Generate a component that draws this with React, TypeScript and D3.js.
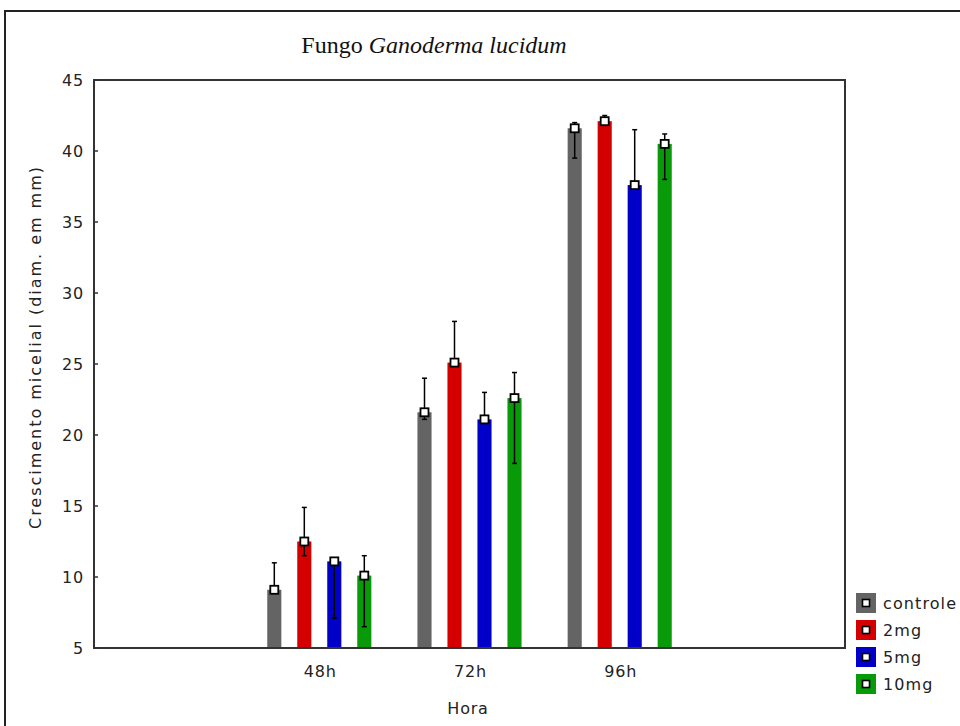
import React from "react";
import * as d3 from "d3";

const hours = ["48h", "72h", "96h"];
const series = ["controle", "2mg", "5mg", "10mg"];
const colors = ["#646464", "#d40000", "#0000c8", "#089a08"];
const meanControle = [9.1, 21.6, 41.6];
const mean2mg = [12.5, 25.1, 42.1];
const mean5mg = [11.1, 21.1, 37.6];
const mean10mg = [10.1, 22.6, 40.5];
const upperControle = [11.0, 24.0, 42.0];
const upper2mg = [14.9, 28.0, 42.5];
const upper5mg = [11.1, 23.0, 41.5];
const upper10mg = [11.5, 24.4, 41.2];
const lowerControle = [9.1, 21.1, 39.5];
const lower2mg = [11.5, 25.1, 42.1];
const lower5mg = [7.1, 21.1, 37.6];
const lower10mg = [6.5, 18.0, 38.0];
const yTicks = [5, 10, 15, 20, 25, 30, 35, 40, 45];

const means = [meanControle, mean2mg, mean5mg, mean10mg];
const uppers = [upperControle, upper2mg, upper5mg, upper10mg];
const lowers = [lowerControle, lower2mg, lower5mg, lower10mg];

export default function App() {
  const W = 960, H = 726;
  const left = 94, right = 845, top = 80, bottom = 648;
  const x0 = d3.scalePoint<string>().domain(hours).range([left, right]).padding(1.5);
  const x1 = d3.scaleBand<string>().domain(series).range([-60, 60]).paddingInner(0.53).paddingOuter(0.265);
  const y = d3.scaleLinear().domain([5, 45]).range([bottom, top]);
  const bw = x1.bandwidth();
  const font = "'DejaVu Sans', sans-serif";
  const tc = "#222";

  return (
    <svg width={W} height={H} style={{ position: "absolute", left: 0, top: 0, background: "#fff" }}>
      {/* outer frame */}
      <path d={`M5,${H} L5,11 L${W},11`} fill="none" stroke="#222" strokeWidth={2} />
      {/* title */}
      <text x={434} y={53} textAnchor="middle" fontFamily="'Liberation Serif', serif" fontSize={24} fill="#111">
        Fungo <tspan fontStyle="italic">Ganoderma lucidum</tspan>
      </text>
      {/* bars */}
      {hours.map((h, i) => (
        <g key={h}>
          {series.map((s, j) => {
            const cx = (x0(h) as number) + (x1(s) as number) + bw / 2;
            const m = means[j][i];
            const up = uppers[j][i];
            const lo = lowers[j][i];
            return (
              <g key={s}>
                <rect x={cx - bw / 2} y={y(m)} width={bw} height={bottom - y(m)} fill={colors[j]} />
                {up > m && (
                  <g>
                    <line x1={cx} x2={cx} y1={y(m)} y2={y(up)} stroke="#000" strokeWidth={1.5} />
                    <line x1={cx - 2.5} x2={cx + 2.5} y1={y(up)} y2={y(up)} stroke="#000" strokeWidth={1.5} />
                  </g>
                )}
                {lo < m && (
                  <g>
                    <line x1={cx} x2={cx} y1={y(m)} y2={y(lo)} stroke="#000" strokeWidth={1.5} />
                    <line x1={cx - 2.5} x2={cx + 2.5} y1={y(lo)} y2={y(lo)} stroke="#000" strokeWidth={1.5} />
                  </g>
                )}
                <rect x={cx - 4} y={y(m) - 4} width={8} height={8} fill="#fff" stroke="#000" strokeWidth={1.8} />
              </g>
            );
          })}
        </g>
      ))}
      {/* plot frame */}
      <rect x={left} y={top} width={right - left} height={bottom - top} fill="none" stroke="#333" strokeWidth={2} />
      {/* y ticks */}
      {yTicks.map((t) => (
        <g key={t}>
          <line x1={left} x2={left + 4} y1={y(t)} y2={y(t)} stroke="#333" strokeWidth={1.5} />
          <text x={84} y={y(t) + 6} textAnchor="end" fontFamily={font} fontSize={16} letterSpacing={0.8} fill={tc}>
            {t}
          </text>
        </g>
      ))}
      {/* x labels */}
      {hours.map((h) => (
        <text key={h} x={(x0(h) as number) + 1} y={677} textAnchor="middle" fontFamily={font} fontSize={16} letterSpacing={0.8} fill={tc}>
          {h}
        </text>
      ))}
      <text x={468} y={714} textAnchor="middle" fontFamily={font} fontSize={16} letterSpacing={0.8} fill={tc}>
        Hora
      </text>
      <text
        transform={`translate(41, ${348}) rotate(-90)`}
        textAnchor="middle"
        fontFamily={font}
        fontSize={16}
        textLength={362}
        lengthAdjust="spacing"
        fill={tc}
      >
        Crescimento micelial (diam. em mm)
      </text>
      {/* legend */}
      {series.map((s, j) => {
        const cy = 603 + j * 27;
        return (
          <g key={s}>
            <rect x={856} y={cy - 10} width={20} height={20} fill={colors[j]} />
            <rect x={862.5} y={cy - 3.5} width={7} height={7} fill="#fff" stroke="#000" strokeWidth={1.6} />
            <text x={883} y={cy + 6} fontFamily={font} fontSize={16} letterSpacing={1.1} fill={tc}>
              {s}
            </text>
          </g>
        );
      })}
    </svg>
  );
}
